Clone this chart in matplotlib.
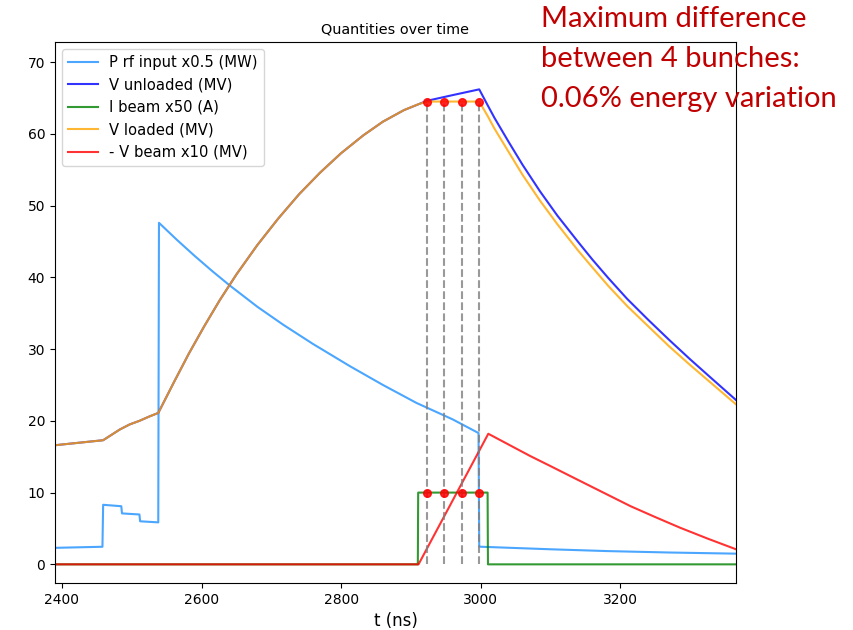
import matplotlib
matplotlib.use("Agg")
import matplotlib.pyplot as plt

# ---- data (t in ns) ----
t_prf = [2390, 2458, 2459, 2485, 2486, 2511, 2512, 2538, 2539, 2565, 2590, 2615, 2640, 2680,
         2717, 2760, 2813, 2860, 2908, 2960, 2997, 2998, 3100, 3181, 3270, 3366]
p_rf = [2.3, 2.45, 8.3, 8.1, 7.1, 6.95, 6.0, 5.85, 47.6, 45.2, 43.0, 40.9, 38.9, 35.9,
        33.4, 30.7, 27.6, 25.0, 22.5, 20.2, 18.3, 2.46, 2.1, 1.85, 1.65, 1.49]

t_vunl = [2390, 2459, 2483, 2497, 2511, 2525, 2538, 2560, 2582, 2604, 2626, 2650, 2680, 2710,
          2740, 2770, 2800, 2832, 2860, 2890, 2923, 2960, 2998, 3010, 3020, 3040, 3060, 3085,
          3110, 3140, 3160, 3183, 3210, 3240, 3270, 3300, 3330, 3366]
v_unl = [16.6, 17.3, 18.8, 19.5, 20.0, 20.6, 21.1, 25.3, 29.4, 33.2, 36.8, 40.4, 44.5, 48.2,
         51.6, 54.6, 57.3, 59.8, 61.7, 63.3, 64.6, 65.4, 66.2, 64.0, 62.2, 58.9, 55.7, 52.0,
         48.6, 44.9, 42.5, 39.9, 37.0, 34.1, 31.3, 28.6, 26.0, 22.9]

t_ib = [2390, 2910, 2910.5, 3010, 3010.5, 3366]
i_beam = [0, 0, 10, 10, 0, 0]

t_vl = [2390, 2459, 2483, 2497, 2511, 2525, 2538, 2560, 2582, 2604, 2626, 2650, 2680, 2710,
        2740, 2770, 2800, 2832, 2860, 2890, 2910, 2923, 2998, 3010, 3020, 3040, 3060, 3085,
        3110, 3140, 3160, 3183, 3210, 3240, 3270, 3300, 3330, 3366]
v_load = [16.6, 17.3, 18.8, 19.5, 20.0, 20.6, 21.1, 25.3, 29.4, 33.2, 36.8, 40.4, 44.5, 48.2,
          51.6, 54.6, 57.3, 59.8, 61.7, 63.3, 64.1, 64.5, 64.5, 62.5, 60.7, 57.5, 54.3, 50.7,
          47.4, 43.7, 41.4, 38.8, 36.0, 33.2, 30.4, 27.8, 25.3, 22.3]

t_vb = [2390, 2911, 3011, 3040, 3071, 3100, 3143, 3180, 3215, 3250, 3286, 3325, 3366]
v_beam = [0, 0, 18.2, 16.7, 15.1, 13.7, 11.6, 9.8, 8.1, 6.6, 5.1, 3.6, 2.1]

t_bunch = [2923, 2948, 2973, 2998]
v_bunch = [64.5, 64.5, 64.5, 64.5]
i_bunch = [10, 10, 10, 10]

labels = ["P rf input x0.5 (MW)", "V unloaded (MV)", "I beam x50 (A)",
          "V loaded (MV)", "- V beam x10 (MV)"]

fig = plt.figure(figsize=(8.54, 6.30), dpi=100)
ax = fig.add_axes([55 / 854, 1 - 583 / 630, (736 - 55) / 854, (583 - 42) / 630])

a = 0.8
ax.plot(t_prf, p_rf, color="dodgerblue", alpha=a, lw=1.5, label=labels[0])
ax.plot(t_vunl, v_unl, color="blue", alpha=a, lw=1.5, label=labels[1])
ax.plot(t_ib, i_beam, color="green", alpha=a, lw=1.5, label=labels[2])
ax.plot(t_vl, v_load, color="orange", alpha=a, lw=1.5, label=labels[3])
ax.plot(t_vb, v_beam, color="red", alpha=a, lw=1.5, label=labels[4])
ax.legend(loc="upper left", fontsize=10.6)

for tb, vb in zip(t_bunch, v_bunch):
    ax.plot([tb, tb], [0, vb], color="gray", ls="--", lw=1.5, alpha=0.8)
ax.plot(t_bunch, v_bunch, "o", color="red", ms=5.5, alpha=0.85)
ax.plot(t_bunch, i_bunch, "o", color="red", ms=5.5, alpha=0.85)

ax.set_xlim(2390, 3366)
ax.set_ylim(-2.6, 72.8)
ax.set_xticks([2400, 2600, 2800, 3000, 3200])
ax.set_yticks([0, 10, 20, 30, 40, 50, 60, 70])
ax.tick_params(labelsize=10)
ax.set_title("Quantities over time", fontsize=10.4)
ax.set_xlabel("t (ns)", fontsize=12)

fig.text(541 / 854, 1 - 6 / 630,
         "Maximum difference\nbetween 4 bunches:\n0.06% energy variation",
         color="#C00000", fontsize=21, family=["Lato", "DejaVu Sans"],
         va="top", ha="left", linespacing=1.66)

fig.savefig("out.png", dpi=100)
